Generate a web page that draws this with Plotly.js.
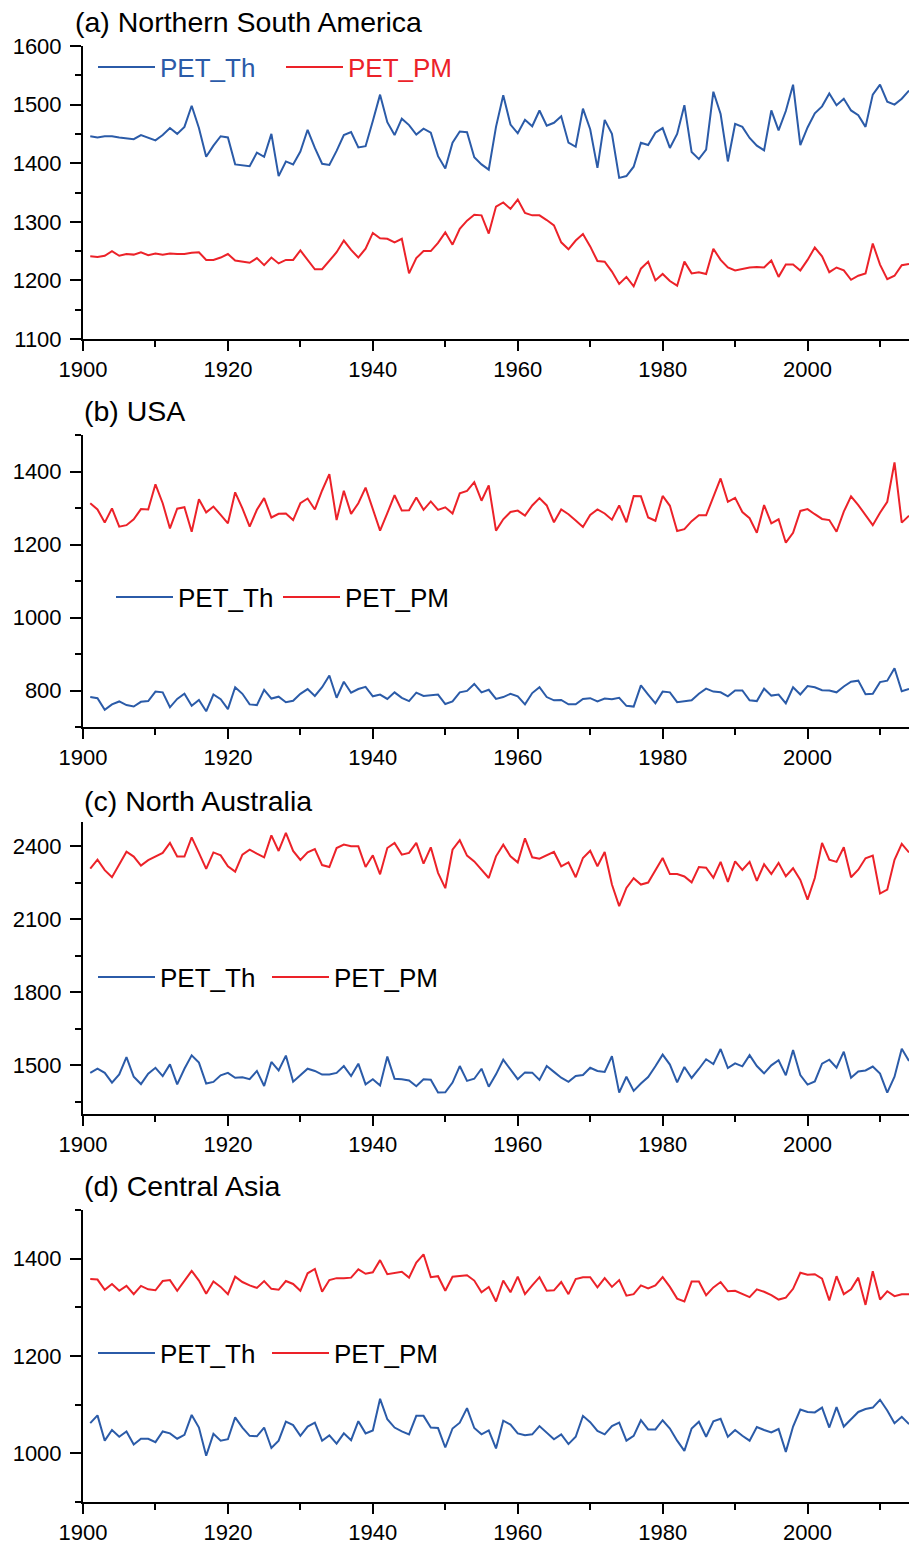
<!DOCTYPE html>
<html><head><meta charset="utf-8">
<script src="https://cdn.plot.ly/plotly-3.0.1.min.js"></script>
<style>html,body{margin:0;padding:0;background:#fff}</style>
</head><body>
<div id="chart" style="width:909px;height:1544px"></div>
<script>
// ---------------- data ----------------
const years = [1901,1902,1903,1904,1905,1906,1907,1908,1909,1910,
1911,1912,1913,1914,1915,1916,1917,1918,1919,1920,
1921,1922,1923,1924,1925,1926,1927,1928,1929,1930,
1931,1932,1933,1934,1935,1936,1937,1938,1939,1940,
1941,1942,1943,1944,1945,1946,1947,1948,1949,1950,
1951,1952,1953,1954,1955,1956,1957,1958,1959,1960,
1961,1962,1963,1964,1965,1966,1967,1968,1969,1970,
1971,1972,1973,1974,1975,1976,1977,1978,1979,1980,
1981,1982,1983,1984,1985,1986,1987,1988,1989,1990,
1991,1992,1993,1994,1995,1996,1997,1998,1999,2000,
2001,2002,2003,2004,2005,2006,2007,2008,2009,2010,
2011,2012,2013,2014];

const nsaTh = [1446,1444,1446,1446,1444,1442,1441,1448,1443,1439,
1448,1460,1450,1462,1498,1460,1411,1430,1446,1444,
1398,1397,1395,1418,1411,1450,1378,1403,1398,1420,
1457,1426,1399,1397,1421,1448,1453,1427,1429,1472,
1517,1470,1448,1476,1465,1449,1459,1452,1412,1391,
1435,1454,1453,1410,1398,1389,1462,1516,1466,1451,
1474,1463,1490,1464,1469,1480,1435,1428,1493,1458,
1392,1474,1450,1375,1378,1394,1435,1431,1452,1460,
1426,1450,1499,1419,1407,1423,1522,1484,1403,1467,
1462,1443,1430,1422,1490,1456,1489,1534,1431,1461,
1485,1497,1519,1499,1510,1490,1482,1462,1517,1534,
1505,1500,1510,1524];
const nsaPM = [1241,1240,1242,1250,1242,1245,1244,1248,1243,1246,
1244,1246,1245,1245,1247,1248,1235,1235,1239,1245,
1234,1232,1230,1238,1226,1239,1229,1235,1235,1251,
1235,1219,1219,1234,1248,1268,1252,1239,1254,1281,
1272,1271,1265,1271,1212,1238,1250,1250,1264,1282,
1261,1288,1302,1312,1311,1280,1326,1333,1322,1338,
1315,1311,1311,1303,1294,1265,1253,1268,1279,1258,
1233,1232,1215,1194,1206,1190,1220,1232,1200,1211,
1199,1191,1232,1212,1214,1211,1254,1235,1222,1217,
1220,1222,1223,1222,1234,1206,1227,1227,1217,1235,
1256,1241,1214,1222,1217,1201,1208,1212,1263,1227,
1202,1208,1226,1228];

const usaTh = [782,779,747,762,770,760,756,769,771,797,
795,754,777,791,758,774,743,789,776,749,
809,791,762,760,802,778,783,768,772,791,
804,785,809,841,780,824,794,804,810,784,
789,777,795,780,771,794,785,787,789,763,
770,795,799,818,795,802,777,782,791,784,
762,793,809,782,773,774,762,762,777,779,
770,778,776,780,758,756,814,789,765,797,
795,768,771,773,791,805,797,795,784,800,
800,773,771,805,786,789,765,809,789,812,
809,801,800,795,811,824,827,790,791,823,
827,861,798,804];
const usaPM = [1313,1296,1260,1299,1249,1253,1269,1297,1296,1365,
1313,1244,1298,1302,1235,1324,1288,1304,1281,1258,
1343,1299,1249,1295,1327,1274,1284,1285,1267,1313,
1326,1296,1348,1393,1267,1347,1284,1313,1356,1296,
1238,1286,1335,1293,1294,1329,1295,1318,1295,1302,
1285,1340,1347,1371,1320,1362,1238,1269,1289,1293,
1279,1307,1327,1307,1261,1296,1283,1266,1248,1281,
1296,1285,1268,1307,1261,1333,1332,1274,1265,1333,
1306,1237,1242,1264,1280,1280,1330,1381,1317,1328,
1289,1272,1232,1308,1258,1269,1205,1232,1292,1297,
1283,1270,1267,1235,1290,1332,1308,1281,1253,1287,
1317,1425,1260,1279];

const nauTh = [1469,1486,1469,1429,1463,1534,1453,1423,1466,1490,
1456,1504,1422,1486,1541,1511,1425,1432,1459,1469,
1449,1451,1443,1477,1415,1514,1479,1540,1433,1460,
1486,1477,1462,1462,1469,1497,1456,1507,1422,1443,
1417,1536,1445,1443,1438,1414,1443,1441,1388,1389,
1429,1497,1436,1445,1486,1412,1463,1523,1484,1443,
1471,1470,1440,1497,1473,1449,1432,1456,1460,1490,
1477,1473,1538,1388,1453,1395,1425,1452,1496,1544,
1503,1430,1493,1448,1485,1525,1505,1567,1489,1508,
1496,1542,1497,1467,1500,1521,1459,1563,1460,1421,
1434,1507,1523,1490,1556,1449,1475,1479,1495,1466,
1388,1453,1568,1518];
const nauPM = [2308,2345,2302,2273,2325,2378,2358,2321,2343,2359,
2373,2414,2358,2358,2437,2373,2307,2375,2363,2318,
2296,2366,2386,2370,2355,2445,2381,2455,2381,2344,
2375,2389,2323,2315,2393,2407,2400,2400,2315,2363,
2285,2393,2414,2366,2373,2414,2329,2396,2291,2228,
2386,2425,2362,2338,2304,2270,2359,2407,2359,2334,
2433,2355,2349,2363,2377,2318,2334,2273,2352,2382,
2318,2377,2243,2154,2229,2269,2243,2251,2302,2352,
2286,2286,2276,2252,2315,2312,2271,2336,2254,2338,
2303,2336,2258,2326,2286,2332,2277,2310,2262,2181,
2270,2414,2345,2336,2396,2273,2304,2351,2362,2206,
2222,2345,2410,2375];

const casTh = [1062,1078,1026,1048,1034,1045,1018,1030,1030,1023,
1045,1041,1030,1038,1079,1053,995,1040,1026,1029,
1074,1053,1036,1035,1053,1011,1026,1065,1058,1036,
1055,1063,1026,1037,1020,1041,1027,1066,1041,1047,
1112,1070,1053,1045,1039,1077,1077,1053,1052,1012,
1051,1063,1093,1052,1039,1047,1010,1067,1059,1041,
1037,1039,1056,1042,1029,1039,1019,1034,1077,1064,
1046,1039,1056,1063,1026,1036,1068,1049,1049,1068,
1051,1026,1005,1051,1065,1034,1066,1071,1034,1048,
1036,1026,1054,1048,1043,1050,1003,1055,1090,1085,
1084,1094,1053,1095,1055,1070,1085,1091,1094,1110,
1088,1062,1075,1060];
const casPM = [1358,1357,1336,1348,1334,1344,1327,1344,1337,1335,
1354,1356,1334,1354,1375,1355,1328,1353,1342,1327,
1363,1352,1345,1340,1354,1338,1336,1354,1348,1334,
1370,1379,1332,1356,1360,1360,1361,1378,1369,1372,
1397,1368,1371,1373,1361,1392,1409,1362,1364,1334,
1363,1365,1366,1355,1331,1342,1312,1355,1331,1363,
1327,1345,1362,1334,1335,1352,1327,1358,1362,1362,
1341,1360,1342,1356,1324,1327,1345,1339,1345,1362,
1342,1318,1312,1353,1353,1325,1341,1352,1333,1334,
1328,1321,1337,1332,1325,1316,1320,1338,1371,1367,
1368,1359,1314,1364,1327,1337,1361,1305,1374,1316,
1333,1323,1327,1327];

const panelTitles = ['(a) Northern South America', '(b) USA', '(c) North Australia', '(d) Central Asia'];
const seriesNames = ['PET_Th', 'PET_PM'];
const xTickVals = [1900, 1920, 1940, 1960, 1980, 2000];

// ---------------- styling / layout ----------------
const W = 909, H = 1544;
const FONT = 'Arial, "Liberation Sans", sans-serif';
const BLUE = '#2b5ba8', RED = '#ec2229';
const plotLeft = 83;

const panels = [
  {th: nsaTh, pm: nsaPM, top: 46, bot: 339, range: [1100, 1600], tick0: 1100, dtick: 100, minor: 50,
   legX: 98, legY: 67, entry: 116, colored: true, titleX: 73, titleY: 22},
  {th: usaTh, pm: usaPM, top: 435, bot: 727, range: [700, 1500], tick0: 800, dtick: 200, minor: 100,
   legX: 116, legY: 597, entry: 95, colored: false, titleX: 82, titleY: 411},
  {th: nauTh, pm: nauPM, top: 822, bot: 1114, range: [1300, 2500], tick0: 1500, dtick: 300, minor: 150,
   legX: 98, legY: 977, entry: 102, colored: false, titleX: 82, titleY: 801},
  {th: casTh, pm: casPM, top: 1210, bot: 1502, range: [900, 1500], tick0: 1000, dtick: 200, minor: 100,
   legX: 98, legY: 1353, entry: 102, colored: false, titleX: 82, titleY: 1186}
];

const data = [];
const layout = {
  width: W, height: H,
  margin: {l: 0, r: 0, t: 0, b: 0},
  paper_bgcolor: '#fff', plot_bgcolor: '#fff',
  font: {family: FONT, color: '#000'},
  showlegend: true,
  annotations: []
};

panels.forEach((p, i) => {
  const n = i + 1;
  const xa = n === 1 ? 'x' : 'x' + n;
  const ya = n === 1 ? 'y' : 'y' + n;
  const legName = n === 1 ? 'legend' : 'legend' + n;
  const nameTh = p.colored ? '<span style="color:' + BLUE + '">' + seriesNames[0] + '</span>' : seriesNames[0];
  const namePM = p.colored ? '<span style="color:' + RED + '">' + seriesNames[1] + '</span>' : seriesNames[1];
  data.push({type: 'scatter', mode: 'lines', x: years, y: p.th, xaxis: xa, yaxis: ya, name: nameTh,
             legend: legName, line: {color: BLUE, width: 2}, hoverinfo: 'skip'});
  data.push({type: 'scatter', mode: 'lines', x: years, y: p.pm, xaxis: xa, yaxis: ya, name: namePM,
             legend: legName, legendwidth: 125, line: {color: RED, width: 2}, hoverinfo: 'skip'});

  layout['xaxis' + (n === 1 ? '' : n)] = {
    domain: [plotLeft / W, 1], range: [1900, 2014], anchor: ya,
    tickmode: 'array', tickvals: xTickVals,
    ticks: 'outside', ticklen: 10, tickwidth: 2, tickcolor: '#000',
    showline: true, linewidth: 2, linecolor: '#000', mirror: false,
    showgrid: false, zeroline: false,
    tickfont: {family: FONT, size: 22, color: '#000'},
    minor: {tick0: 1900, dtick: 10, ticks: 'outside', ticklen: 6, tickwidth: 2, tickcolor: '#000', showgrid: false}
  };
  // top border with its own small inward ticks
  layout['xaxis' + (n + 4)] = {
    overlaying: xa, side: 'top', anchor: ya,
    range: [0, (W - plotLeft) / 83.5], tick0: 0, dtick: 1,
    ticks: 'inside', ticklen: 4, tickwidth: 1.5, tickcolor: '#000',
    showticklabels: false, showline: true, linewidth: 2, linecolor: '#000',
    showgrid: false, zeroline: false
  };
  layout['yaxis' + (n === 1 ? '' : n)] = {
    domain: [1 - p.bot / H, 1 - p.top / H], range: p.range, anchor: xa,
    tick0: p.tick0, dtick: p.dtick,
    ticks: 'outside', ticklen: 11, tickwidth: 2, tickcolor: '#000',
    showline: true, linewidth: 2, linecolor: '#000', mirror: false,
    showgrid: false, zeroline: false, ticklabelstandoff: 4,
    tickfont: {family: FONT, size: 22, color: '#000'},
    minor: {tick0: p.tick0, dtick: p.minor, ticks: 'outside', ticklen: 6, tickwidth: 2, tickcolor: '#000', showgrid: false}
  };
  layout[legName] = {
    x: (p.legX - 5) / W, xanchor: 'left', y: 1 - p.legY / H, yanchor: 'middle',
    orientation: 'h', bgcolor: 'rgba(0,0,0,0)', borderwidth: 0,
    itemwidth: 57, entrywidth: p.entry, entrywidthmode: 'pixels',
    font: {family: FONT, size: 26, color: '#000'}
  };
  layout.annotations.push({
    xref: 'paper', yref: 'paper', x: p.titleX / W, y: 1 - p.titleY / H,
    xanchor: 'left', yanchor: 'middle', showarrow: false,
    text: panelTitles[i], font: {family: FONT, size: 28.5, color: '#000'}
  });
});

Plotly.newPlot('chart', data, layout, {staticPlot: true, displayModeBar: false}).then(gd => {
  gd.querySelectorAll('.legendlines path').forEach(el => el.setAttribute('d', 'M5,0h57'));
});
</script>
</body></html>
